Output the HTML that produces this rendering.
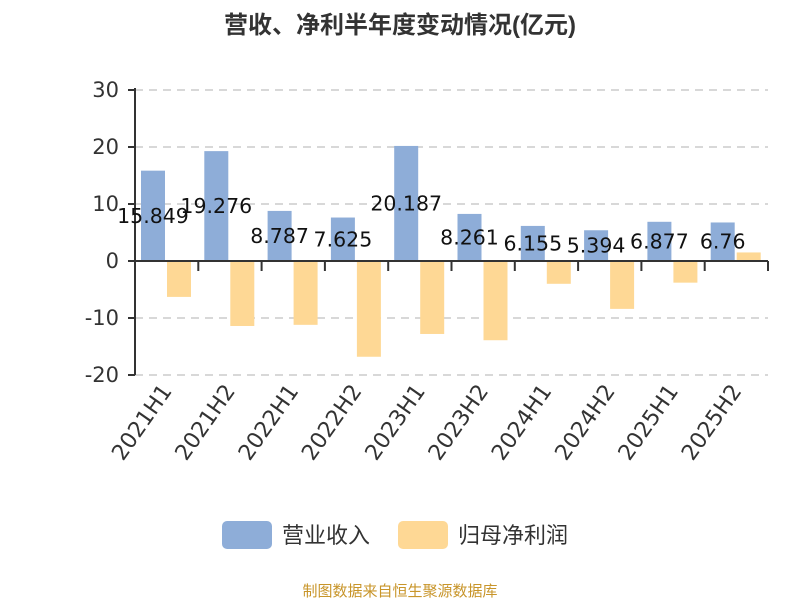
<!DOCTYPE html>
<html><head><meta charset="utf-8"><style>body{margin:0;background:#fff}svg text{font-family:"DejaVu Sans","Noto Sans CJK SC",sans-serif}</style></head>
<body>
<svg id="c" width="800" height="600" xmlns="http://www.w3.org/2000/svg">
<text x="400" y="33" text-anchor="middle" font-size="24" font-weight="bold" fill="#333" style="font-family:'Liberation Sans','Noto Sans CJK SC',sans-serif">营收、净利半年度变动情况(亿元)</text>
<g id="grid"></g><g id="bars"></g><g id="axes"></g><g id="labels"></g>
<g>
<rect x="222" y="521" width="50" height="28" rx="5" fill="#8eadd8"/>
<text x="282" y="543" font-size="22" fill="#333">营业收入</text>
<rect x="398" y="521" width="50" height="28" rx="5" fill="#fed895"/>
<text x="458" y="543" font-size="22" fill="#333">归母净利润</text>
</g>
<text x="400" y="596" text-anchor="middle" font-size="15" fill="#c8952a">制图数据来自恒生聚源数据库</text>
</svg>
<script>
const categories=["2021H1","2021H2","2022H1","2022H2","2023H1","2023H2","2024H1","2024H2","2025H1","2025H2"];
const revenue=[15.849,19.276,8.787,7.625,20.187,8.261,6.155,5.394,6.877,6.76];
const revenueLabels=["15.849","19.276","8.787","7.625","20.187","8.261","6.155","5.394","6.877","6.76"];
const profit=[-6.3,-11.4,-11.2,-16.8,-12.8,-13.9,-4.0,-8.4,-3.8,1.5];
const yTicks=[30,20,10,0,-10,-20];
const NS="http://www.w3.org/2000/svg";
const x0=135,x1=768,bw=(x1-x0)/categories.length;
const y=v=>261-v*5.7;
function mk(p,tag,a){const e=document.createElementNS(NS,tag);for(const k in a)e.setAttribute(k,a[k]);document.getElementById(p).appendChild(e);return e;}
yTicks.forEach(t=>{
 if(t!==0){const g=mk('grid','line',{x1:x0,x2:x1,y1:y(t),y2:y(t),stroke:'#ccc','stroke-dasharray':'8,6','stroke-width':1.5});
 
 }
 const tk=mk('axes','line',{x1:x0-7,x2:x0,y1:y(t),y2:y(t),stroke:'#333','stroke-width':2});
 
 
 const tx=mk('axes','text',{x:x0-16,y:y(t)+7,'text-anchor':'end','font-size':21,fill:'#333'});tx.textContent=t;
 
 
});
const ya=mk('axes','line',{x1:x0,x2:x0,y1:y(30)-2,y2:y(-20),stroke:'#333','stroke-width':2});


const xa=mk('axes','line',{x1:x0,x2:x1,y1:y(0),y2:y(0),stroke:'#333','stroke-width':2});


categories.forEach((c,i)=>{
 const cx=x0+i*bw;
 const tk=mk('axes','line',{x1:cx+bw,x2:cx+bw,y1:y(0),y2:y(0)+10,stroke:'#333','stroke-width':2});
 
 
 const r=revenue[i];
 const b=mk('bars','rect',{x:cx+6,y:Math.min(y(r),y(0)),width:24,height:Math.abs(y(r)-y(0)),fill:'#8eadd8'});
 
 
 const p=profit[i];
 const b2=mk('bars','rect',{x:cx+32,y:Math.min(y(p),y(0)),width:24,height:Math.abs(y(p)-y(0)),fill:'#fed895'});
 
 
 const l=mk('labels','text',{x:cx+18,y:(y(r)+y(0))/2+7,'text-anchor':'middle','font-size':20.5,fill:'#111'});l.textContent=revenueLabels[i];
 
 
 const lx=cx+bw/2+6,ly=y(-20)+16;
 const xl=mk('axes','text',{x:lx,y:ly,'text-anchor':'end','font-size':22,fill:'#333',transform:`rotate(-55 ${lx} ${ly})`});xl.textContent=c;
 
 
});
</script>
</body></html>
